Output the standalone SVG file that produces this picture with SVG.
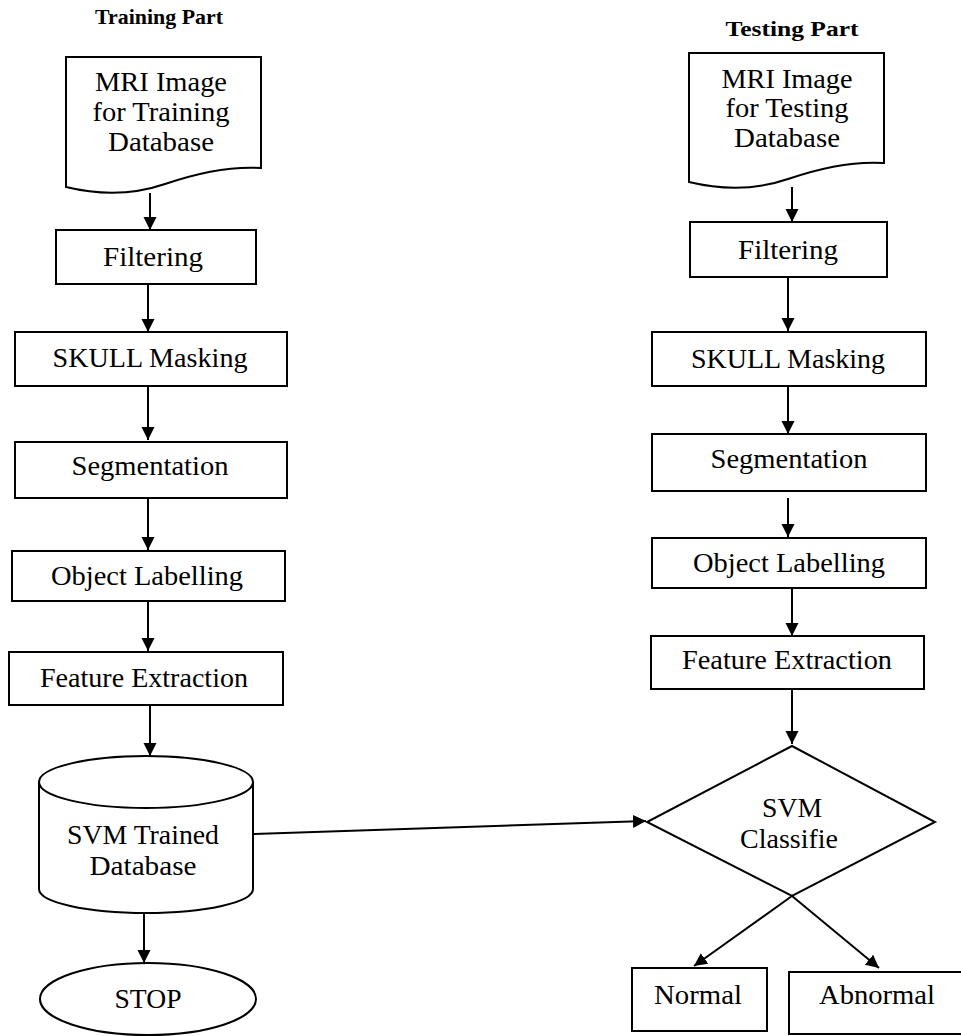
<svg xmlns="http://www.w3.org/2000/svg" width="961" height="1036" viewBox="0 0 961 1036">
<style>
.s{fill:#fff;stroke:#000;stroke-width:2}
.t{font-family:"Liberation Serif","Times New Roman",serif;font-size:27px;fill:#000;text-anchor:middle}
.h{font-family:"Liberation Serif","Times New Roman",serif;font-size:21px;font-weight:bold;fill:#000;text-anchor:middle}
.c{fill:none;stroke:#000;stroke-width:2}
</style>
<defs>
<marker id="a" markerUnits="userSpaceOnUse" markerWidth="14" markerHeight="14" refX="13" refY="6.5" orient="auto">
<path d="M0,0 L13,6.5 L0,13 Z" fill="#000"/>
</marker>
</defs>
<rect width="961" height="1036" fill="#fff"/>

<text class="h" x="159" y="24" textLength="128" lengthAdjust="spacingAndGlyphs">Training Part</text>
<text class="h" x="792" y="36" textLength="133" lengthAdjust="spacingAndGlyphs">Testing Part</text>

<g id="connectors">
<line class="c" x1="150" y1="193" x2="150" y2="230" marker-end="url(#a)"/>
<line class="c" x1="148" y1="284" x2="148" y2="332" marker-end="url(#a)"/>
<line class="c" x1="148" y1="386" x2="148" y2="440" marker-end="url(#a)"/>
<line class="c" x1="148" y1="498" x2="148" y2="550" marker-end="url(#a)"/>
<line class="c" x1="148" y1="601" x2="148" y2="651" marker-end="url(#a)"/>
<line class="c" x1="150" y1="705" x2="150" y2="756" marker-end="url(#a)"/>
<line class="c" x1="144" y1="913" x2="144" y2="963" marker-end="url(#a)"/>
<line class="c" x1="253" y1="834" x2="646" y2="821" marker-end="url(#a)"/>
<line class="c" x1="792" y1="187" x2="792" y2="222" marker-end="url(#a)"/>
<line class="c" x1="788" y1="277" x2="788" y2="331" marker-end="url(#a)"/>
<line class="c" x1="788" y1="386" x2="788" y2="434" marker-end="url(#a)"/>
<line class="c" x1="788" y1="498" x2="788" y2="537" marker-end="url(#a)"/>
<line class="c" x1="792" y1="588" x2="792" y2="636" marker-end="url(#a)"/>
<line class="c" x1="792" y1="690" x2="792" y2="744" marker-end="url(#a)"/>
<line class="c" x1="792" y1="896" x2="694" y2="966" marker-end="url(#a)"/>
<line class="c" x1="792" y1="896" x2="879" y2="968" marker-end="url(#a)"/>
</g>

<g id="train-input">
<path class="s" d="M66,57 H261 V168 C230,166 200,172 165,184 C130,196 95,194 66,187 Z"/>
<text class="t" x="161" y="91" textLength="132" lengthAdjust="spacingAndGlyphs">MRI Image</text>
<text class="t" x="161" y="121" textLength="137" lengthAdjust="spacingAndGlyphs">for Training</text>
<text class="t" x="161" y="151" textLength="106" lengthAdjust="spacingAndGlyphs">Database</text>
</g>
<g id="train-filtering">
<rect class="s" x="56" y="230" width="200" height="54"/>
<text class="t" x="153" y="266" textLength="100" lengthAdjust="spacingAndGlyphs">Filtering</text>
</g>
<g id="train-skull">
<rect class="s" x="15" y="332" width="272" height="54"/>
<text class="t" x="150" y="367" textLength="195" lengthAdjust="spacingAndGlyphs">SKULL Masking</text>
</g>
<g id="train-segmentation">
<rect class="s" x="15" y="442" width="272" height="56"/>
<text class="t" x="150" y="475" textLength="157" lengthAdjust="spacingAndGlyphs">Segmentation</text>
</g>
<g id="train-labelling">
<rect class="s" x="12" y="551" width="273" height="50"/>
<text class="t" x="147" y="585" textLength="192" lengthAdjust="spacingAndGlyphs">Object Labelling</text>
</g>
<g id="train-feature">
<rect class="s" x="9" y="652" width="274" height="53"/>
<text class="t" x="144" y="687" textLength="208" lengthAdjust="spacingAndGlyphs">Feature Extraction</text>
</g>
<g id="svm-db">
<path class="s" d="M39,782 V889 A107,24 0 0 0 253,889 V782 A107,26 0 0 0 39,782 Z"/>
<path class="c" d="M39,782 A107,26 0 0 0 253,782"/>
<text class="t" x="143" y="844" textLength="152" lengthAdjust="spacingAndGlyphs">SVM Trained</text>
<text class="t" x="143" y="875" textLength="107" lengthAdjust="spacingAndGlyphs">Database</text>
</g>
<g id="stop">
<ellipse class="s" cx="148" cy="999" rx="108" ry="36"/>
<text class="t" x="148" y="1008" textLength="67" lengthAdjust="spacingAndGlyphs">STOP</text>
</g>

<g id="test-input">
<path class="s" d="M689,53 H884 V163 C853,161 823,167 788,179 C753,191 718,189 689,182 Z"/>
<text class="t" x="787" y="88" textLength="131" lengthAdjust="spacingAndGlyphs">MRI Image</text>
<text class="t" x="787" y="117" textLength="123" lengthAdjust="spacingAndGlyphs">for Testing</text>
<text class="t" x="787" y="147" textLength="106" lengthAdjust="spacingAndGlyphs">Database</text>
</g>
<g id="test-filtering">
<rect class="s" x="690" y="222" width="197" height="55"/>
<text class="t" x="788" y="259" textLength="100" lengthAdjust="spacingAndGlyphs">Filtering</text>
</g>
<g id="test-skull">
<rect class="s" x="652" y="332" width="274" height="54"/>
<text class="t" x="788" y="368" textLength="194" lengthAdjust="spacingAndGlyphs">SKULL Masking</text>
</g>
<g id="test-segmentation">
<rect class="s" x="652" y="434" width="274" height="57"/>
<text class="t" x="789" y="468" textLength="157" lengthAdjust="spacingAndGlyphs">Segmentation</text>
</g>
<g id="test-labelling">
<rect class="s" x="652" y="538" width="274" height="50"/>
<text class="t" x="789" y="572" textLength="192" lengthAdjust="spacingAndGlyphs">Object Labelling</text>
</g>
<g id="test-feature">
<rect class="s" x="651" y="636" width="273" height="53"/>
<text class="t" x="787" y="669" textLength="210" lengthAdjust="spacingAndGlyphs">Feature Extraction</text>
</g>
<g id="svm-classifier">
<polygon class="s" points="792,746 935,822 792,896 647,822"/>
<text class="t" x="792" y="817" textLength="60" lengthAdjust="spacingAndGlyphs">SVM</text>
<text class="t" x="789" y="848" textLength="98" lengthAdjust="spacingAndGlyphs">Classifie</text>
</g>
<g id="normal">
<rect class="s" x="632" y="968" width="135" height="63"/>
<text class="t" x="698" y="1004" textLength="88" lengthAdjust="spacingAndGlyphs">Normal</text>
</g>
<g id="abnormal">
<rect class="s" x="789" y="972" width="180" height="62"/>
<text class="t" x="877" y="1004" textLength="116" lengthAdjust="spacingAndGlyphs">Abnormal</text>
</g>
</svg>
